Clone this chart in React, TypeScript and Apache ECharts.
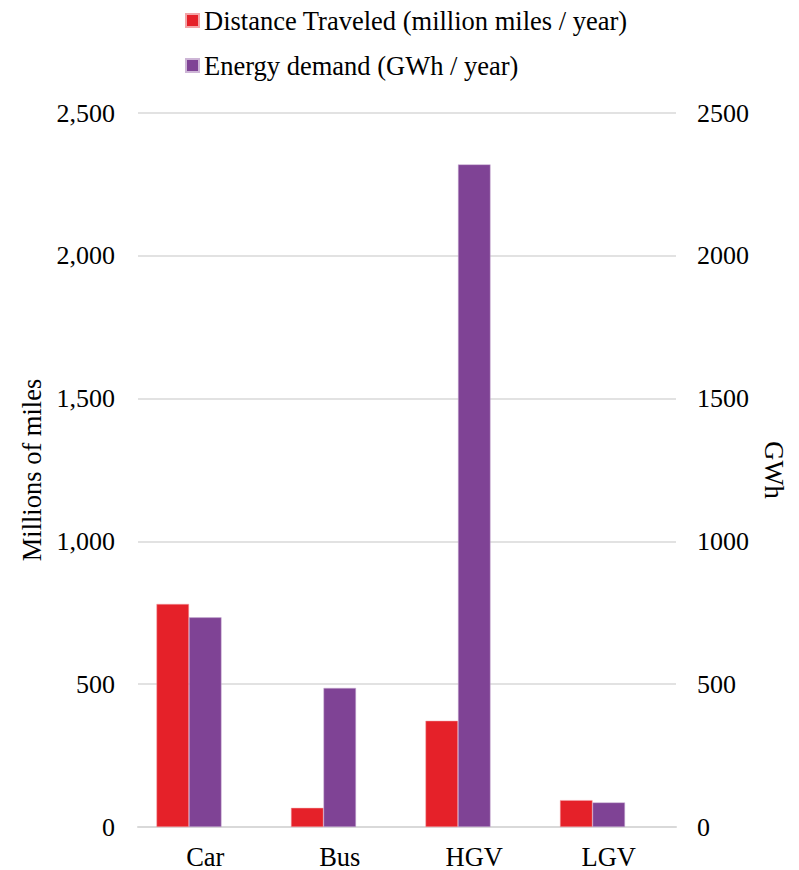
import React, { useEffect, useRef } from "react";
import * as echarts from "echarts";

const categories = ["Car", "Bus", "HGV", "LGV"];
const distanceMiles = [781, 67, 372, 94];
const energyGWh = [734, 487, 2320, 86];
const seriesNames = ["Distance Traveled (million miles / year)", "Energy demand (GWh / year)"];
const leftAxisName = "Millions of miles";
const rightAxisName = "GWh";

const FONT = "'Liberation Serif', 'Times New Roman', serif";
const FS = 26.5;

export default function App() {
  const ref = useRef<HTMLDivElement>(null);
  useEffect(() => {
    if (!ref.current) return;
    const chart = echarts.init(ref.current, undefined, { renderer: "svg" });
    chart.setOption({
      animation: false,
      backgroundColor: "#ffffff",
      textStyle: { fontFamily: FONT },
      legend: {
        orient: "vertical",
        left: 180,
        top: 2,
        itemWidth: 13,
        itemHeight: 13,
        itemGap: 18,
        icon: "rect",
        data: seriesNames,
        textStyle: { fontFamily: FONT, fontSize: FS, color: "#000" },
      },
      grid: { left: 138, right: 123, top: 113, bottom: 43 },
      xAxis: {
        type: "category",
        data: categories,
        axisLine: { lineStyle: { color: "#d9d9d9", width: 2 } },
        axisTick: { show: false },
        axisLabel: { fontFamily: FONT, fontSize: FS, color: "#000", margin: 16 },
      },
      yAxis: [
        {
          type: "value",
          min: 0,
          max: 2500,
          interval: 500,
          position: "left",
          name: leftAxisName,
          nameLocation: "middle",
          nameGap: 88,
          nameTextStyle: { fontFamily: FONT, fontSize: FS, color: "#000" },
          axisLine: { show: false },
          axisTick: { show: false },
          axisLabel: {
            fontFamily: FONT,
            fontSize: 26,
            color: "#000",
            margin: 23,
            formatter: (v: number) => v.toLocaleString("en-US"),
          },
          splitLine: { lineStyle: { color: "#d9d9d9", width: 1.5 } },
        },
        {
          type: "value",
          min: 0,
          max: 2500,
          interval: 500,
          position: "right",
          name: rightAxisName,
          nameLocation: "middle",
          nameGap: 84,
          nameRotate: -90,
          nameTextStyle: { fontFamily: FONT, fontSize: FS, color: "#000" },
          axisLine: { show: false },
          axisTick: { show: false },
          axisLabel: {
            fontFamily: FONT,
            fontSize: 26,
            color: "#000",
            margin: 21,
            formatter: (v: number) => String(v),
          },
          splitLine: { show: false },
        },
      ],
      series: [
        {
          name: seriesNames[0],
          type: "bar",
          yAxisIndex: 0,
          data: distanceMiles,
          barGap: "0%",
          barCategoryGap: "27.5%",
          itemStyle: { color: "#e52129", borderColor: "#f3a5a8", borderWidth: 0.5 },
        },
        {
          name: seriesNames[1],
          type: "bar",
          yAxisIndex: 1,
          data: energyGWh,
          barGap: "0%",
          barCategoryGap: "27.5%",
          itemStyle: { color: "#7f4395", borderColor: "#cdb5d6", borderWidth: 0.5 },
        },
        {
          name: "spacer",
          type: "bar",
          yAxisIndex: 0,
          data: categories.map(() => null),
          barGap: "0%",
          barCategoryGap: "27.5%",
          silent: true,
        },
      ],
    });
    return () => chart.dispose();
  }, []);
  return (
    <div
      ref={ref}
      style={{ position: "absolute", left: 0, top: 0, width: 799, height: 870 }}
    />
  );
}
